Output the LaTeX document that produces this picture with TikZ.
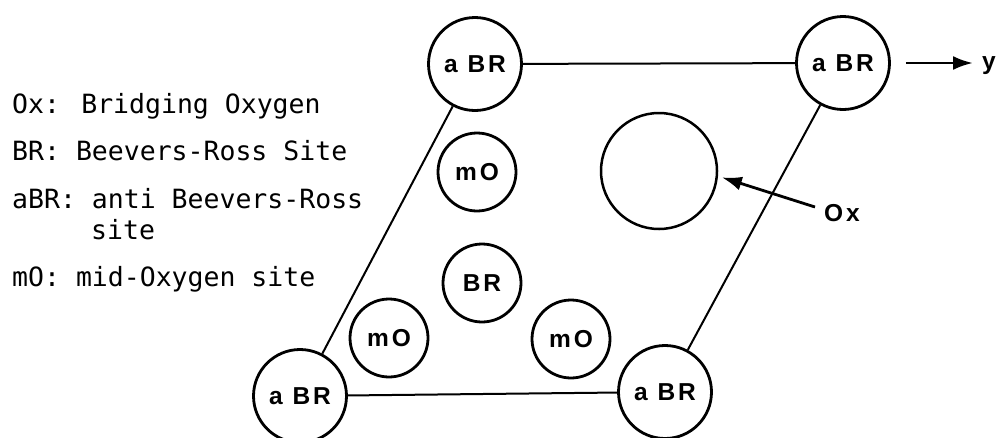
\documentclass[tikz,border=0pt]{standalone}
\usepackage{fontspec}
\usetikzlibrary{arrows.meta}
\newfontfamily\cfont[LetterSpace=12]{Liberation Sans Bold}
\newfontfamily\lfont{DejaVu Sans Mono}
\begin{document}
\begin{tikzpicture}[x=1pt,y=-1pt,
  site/.style={circle, draw, line width=2.8pt, inner sep=0pt,
    font=\cfont\fontsize{24.5}{28}\selectfont},
  bigsite/.style={site, minimum size=93pt},
  smallsite/.style={site, minimum size=78pt},
  oxsite/.style={circle, draw, line width=2.5pt, inner sep=0pt, minimum size=116pt},
  edgeline/.style={line width=2pt},
  arr/.style={line width=2.8pt, -{Latex[length=20pt,width=14pt]}},
  legend/.style={anchor=base west, inner sep=0pt,
    font=\lfont\fontsize{26.5}{30}\selectfont},
  lbl/.style={inner sep=0pt, font=\cfont\fontsize{24.5}{28}\selectfont}]
\useasboundingbox (0,0) rectangle (996,437);

% corner sites
\node[bigsite] (tl) at (475,64) {a BR};
\node[bigsite] (tr) at (843,63) {a BR};
\node[bigsite] (bl) at (300,396) {a BR};
\node[bigsite] (br) at (665,392) {a BR};

% inner sites
\node[smallsite] (mo1) at (477,172) {mO};
\node[smallsite] (brs) at (482,283) {BR};
\node[smallsite] (mo2) at (389,338) {mO};
\node[smallsite] (mo3) at (571,339) {mO};
\node[oxsite] (ox) at (659,171) {};

% cell edges
\draw[edgeline] (tl) -- (tr);
\draw[edgeline] (tr) -- (br);
\draw[edgeline] (br) -- (bl);
\draw[edgeline] (bl) -- (tl);

% y axis arrow
\node[lbl, anchor=base west] (yl) at (982,69) {y};
\draw[arr, shorten <=15pt, shorten >=9pt] (tr.east) -- (tr.east -| yl.west);

% Ox label
\node[lbl, anchor=west] (oxl) at (824,213) {Ox};
\coordinate (oxt) at (815,207);
\draw[arr, shorten >=4pt] (oxt) -- (ox.-5);

% legend
\node[legend] (l1) at (12,113) {Ox: Bridging Oxygen};
\node[legend] (l2) at (12,160) {BR: Beevers-Ross Site};
\node[legend] (l3) at (12,208) {aBR: anti Beevers-Ross};
\node[legend] (l4) at (91,239) {site};
\node[legend] (l5) at (12,286) {mO: mid-Oxygen site};
\end{tikzpicture}
\end{document}
